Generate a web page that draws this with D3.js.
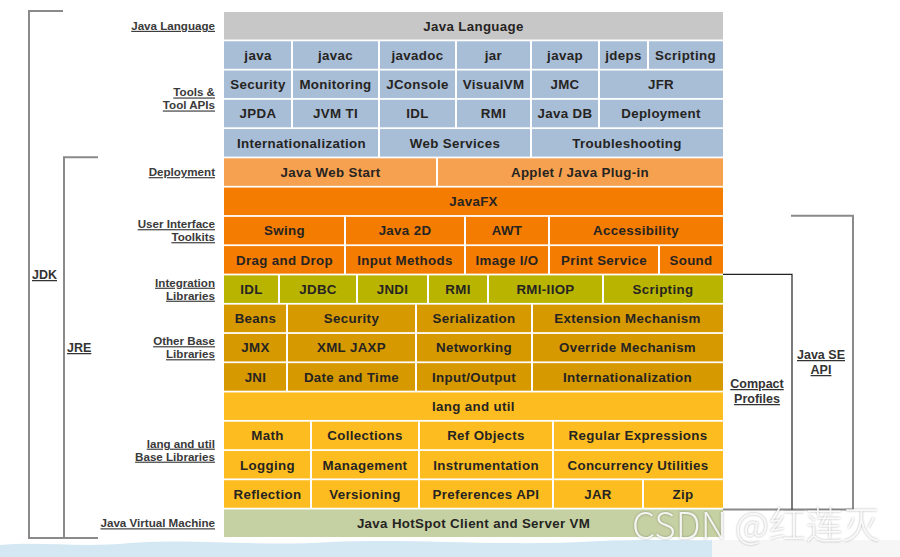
<!DOCTYPE html>
<html><head><meta charset="utf-8">
<script src="https://cdn.jsdelivr.net/npm/d3@7"></script>
<style>
html,body{margin:0;padding:0;background:#fff;}
svg{display:block;}
</style></head>
<body>
<svg id="chart" width="900" height="557"></svg>
<script>
// ---- data ----
const rowIds = ["lang","tools1","tools2","tools3","tools4","deploy","javafx","ui1","ui2","integ","other1","other2","other3","langutil","base1","base2","base3","jvm"];
const rowGroups = ["language","tools","tools","tools","tools","deployment","ui","ui","ui","integration","other","other","other","base","base","base","base","vm"];
const cellLabels = [
  ["Java Language"],
  ["java","javac","javadoc","jar","javap","jdeps","Scripting"],
  ["Security","Monitoring","JConsole","VisualVM","JMC","JFR"],
  ["JPDA","JVM TI","IDL","RMI","Java DB","Deployment"],
  ["Internationalization","Web Services","Troubleshooting"],
  ["Java Web Start","Applet / Java Plug-in"],
  ["JavaFX"],
  ["Swing","Java 2D","AWT","Accessibility"],
  ["Drag and Drop","Input Methods","Image I/O","Print Service","Sound"],
  ["IDL","JDBC","JNDI","RMI","RMI-IIOP","Scripting"],
  ["Beans","Security","Serialization","Extension Mechanism"],
  ["JMX","XML JAXP","Networking","Override Mechanism"],
  ["JNI","Date and Time","Input/Output","Internationalization"],
  ["lang and util"],
  ["Math","Collections","Ref Objects","Regular Expressions"],
  ["Logging","Management","Instrumentation","Concurrency Utilities"],
  ["Reflection","Versioning","Preferences API","JAR","Zip"],
  ["Java HotSpot Client and Server VM"]
];
const cellSpans = [
  [499],
  [68,87,77,75,68,49,75],
  [68,87,77,75,68,124],
  [68,87,77,75,68,124],
  [155,152,192],
  [213,286],
  [499],
  [121,120,84,174],
  [121,120,84,110,64],
  [55,78,71,60,115,120],
  [63,129,116,191],
  [63,129,116,191],
  [63,129,116,191],
  [499],
  [87,108,134,170],
  [87,108,134,170],
  [87,108,134,90,80],
  [499]
];
const groupNames = ["language","tools","deployment","ui","integration","other","base","vm"];
const groupColors = ["#c8c7c8","#a8bdd6","#f6a14f","#f47c00","#b9b400","#d69900","#fdbd20","#c5d1a3"];
const sideLabels = [
  {text:["Java Language"], from:"lang", to:"lang"},
  {text:["Tools &","Tool APIs"], from:"tools1", to:"tools4"},
  {text:["Deployment"], from:"deploy", to:"deploy"},
  {text:["User Interface","Toolkits"], from:"javafx", to:"ui2"},
  {text:["Integration","Libraries"], from:"integ", to:"integ"},
  {text:["Other Base","Libraries"], from:"other1", to:"other3"},
  {text:["lang and util","Base Libraries"], from:"langutil", to:"base3"},
  {text:["Java Virtual Machine"], from:"jvm", to:"jvm"}
];

// ---- scales ----
const svg = d3.select("#chart");
const x = d3.scaleLinear().domain([0, 499]).range([224, 723]);
const y = d3.scaleBand().domain(rowIds).range([12, 537]).paddingInner(0.06).paddingOuter(0);
const color = d3.scaleOrdinal().domain(groupNames).range(groupColors);

// bottom decoration (background wave)
svg.append("path")
  .attr("d","M0,545 C40,541 80,548 130,543 C200,538 260,547 330,542 C420,538 500,547 600,541 C650,539 690,541 712,540 L712,557 L0,557 Z")
  .attr("fill","#d3e8f2");
svg.append("rect").attr("x",712).attr("y",540).attr("width",188).attr("height",17).attr("fill","#f6f6f6");

// ---- cells ----
const cells = [];
rowIds.forEach((rid, i) => {
  let acc = 0;
  cellLabels[i].forEach((lab, j) => {
    cells.push({row: rid, group: rowGroups[i], label: lab, x0: acc, x1: acc + cellSpans[i][j]});
    acc += cellSpans[i][j];
  });
});

const g = svg.append("g");
g.selectAll("rect.cell").data(cells).join("rect")
  .attr("class","cell")
  .attr("x", d => x(d.x0) + (d.x0 > 0 ? 1 : 0))
  .attr("y", d => y(d.row))
  .attr("width", d => x(d.x1) - x(d.x0) - (d.x0 > 0 ? 1 : 0) - (d.x1 < 499 ? 1 : 0))
  .attr("height", y.bandwidth())
  .attr("fill", d => color(d.group));

g.selectAll("text.cell").data(cells).join("text")
  .attr("class","cell")
  .attr("x", d => (x(d.x0) + x(d.x1)) / 2)
  .attr("y", d => y(d.row) + y.bandwidth() / 2)
  .attr("dy","0.36em")
  .attr("text-anchor","middle")
  .attr("font-family","'Liberation Sans', Arial, sans-serif")
  .attr("font-weight","bold")
  .attr("font-size", 13.3)
  .attr("letter-spacing", 0.35)
  .attr("fill","#262422")
  .text(d => d.label);

// ---- side labels ----
const lab = svg.append("g");
sideLabels.forEach(s => {
  const cy = (y(s.from) + y(s.to) + y.bandwidth()) / 2;
  const n = s.text.length;
  s.text.forEach((t, k) => {
    lab.append("text")
      .attr("x", 215)
      .attr("y", cy + (k - (n - 1) / 2) * 13)
      .attr("dy","0.35em")
      .attr("text-anchor","end")
      .attr("font-family","'Liberation Sans', Arial, sans-serif")
      .attr("font-weight","bold")
      .attr("font-size", 11.6)
      .attr("fill","#3a3a3a")
      .attr("text-decoration","underline")
      .text(t);
  });
});

// ---- brackets ----
const br = svg.append("g").attr("fill","none");
const yTop = y("lang") - 1, yBottom = y("jvm") + y.bandwidth() + 1;
// JDK
br.append("path").attr("d", `M63,${yTop} H29 V${yBottom} H98`).attr("stroke","#8a8a8a").attr("stroke-width",2);
// JRE
br.append("path").attr("d", `M98,${y("deploy") - 1} H64 V${yBottom}`).attr("stroke","#8a8a8a").attr("stroke-width",2);
// Java SE API
const seTop = y("ui1") - 1;
const cpTop = y("integ") - 1;
const cpBottom = y("jvm");
br.append("path").attr("d", `M791,${seTop} H853 V${cpBottom} H723`).attr("stroke","#8a8a8a").attr("stroke-width",2);
// Compact Profiles
br.append("path").attr("d", `M723,${cpTop} H792 V${cpBottom}`).attr("stroke","#222").attr("stroke-width",1.2);

const bl = svg.append("g")
  .attr("font-family","'Liberation Sans', Arial, sans-serif")
  .attr("font-weight","bold")
  .attr("fill","#333")
  .attr("text-decoration","underline");
bl.append("text").attr("x",32).attr("y",279).attr("font-size",12.5).text("JDK");
bl.append("text").attr("x",67).attr("y",352).attr("font-size",12.5).text("JRE");
bl.append("text").attr("x",757).attr("y",388).attr("text-anchor","middle").attr("font-size",12.5).text("Compact");
bl.append("text").attr("x",757).attr("y",403).attr("text-anchor","middle").attr("font-size",12.5).text("Profiles");
bl.append("text").attr("x",821).attr("y",359).attr("text-anchor","middle").attr("font-size",12.5).text("Java SE");
bl.append("text").attr("x",821).attr("y",374).attr("text-anchor","middle").attr("font-size",12.5).text("API");

// watermark
svg.append("text")
  .attr("x", 632).attr("y", 539)
  .attr("font-family","'Noto Sans CJK SC', 'Noto Sans', sans-serif")
  .attr("font-weight", 300)
  .attr("font-size", 37)
  .attr("fill","#ffffff")
  .attr("fill-opacity", 0.88)
  .style("filter","drop-shadow(0px 0px 1px rgba(0,0,0,0.35))")
  .text("CSDN @红莲灭");
</script>
</body></html>
